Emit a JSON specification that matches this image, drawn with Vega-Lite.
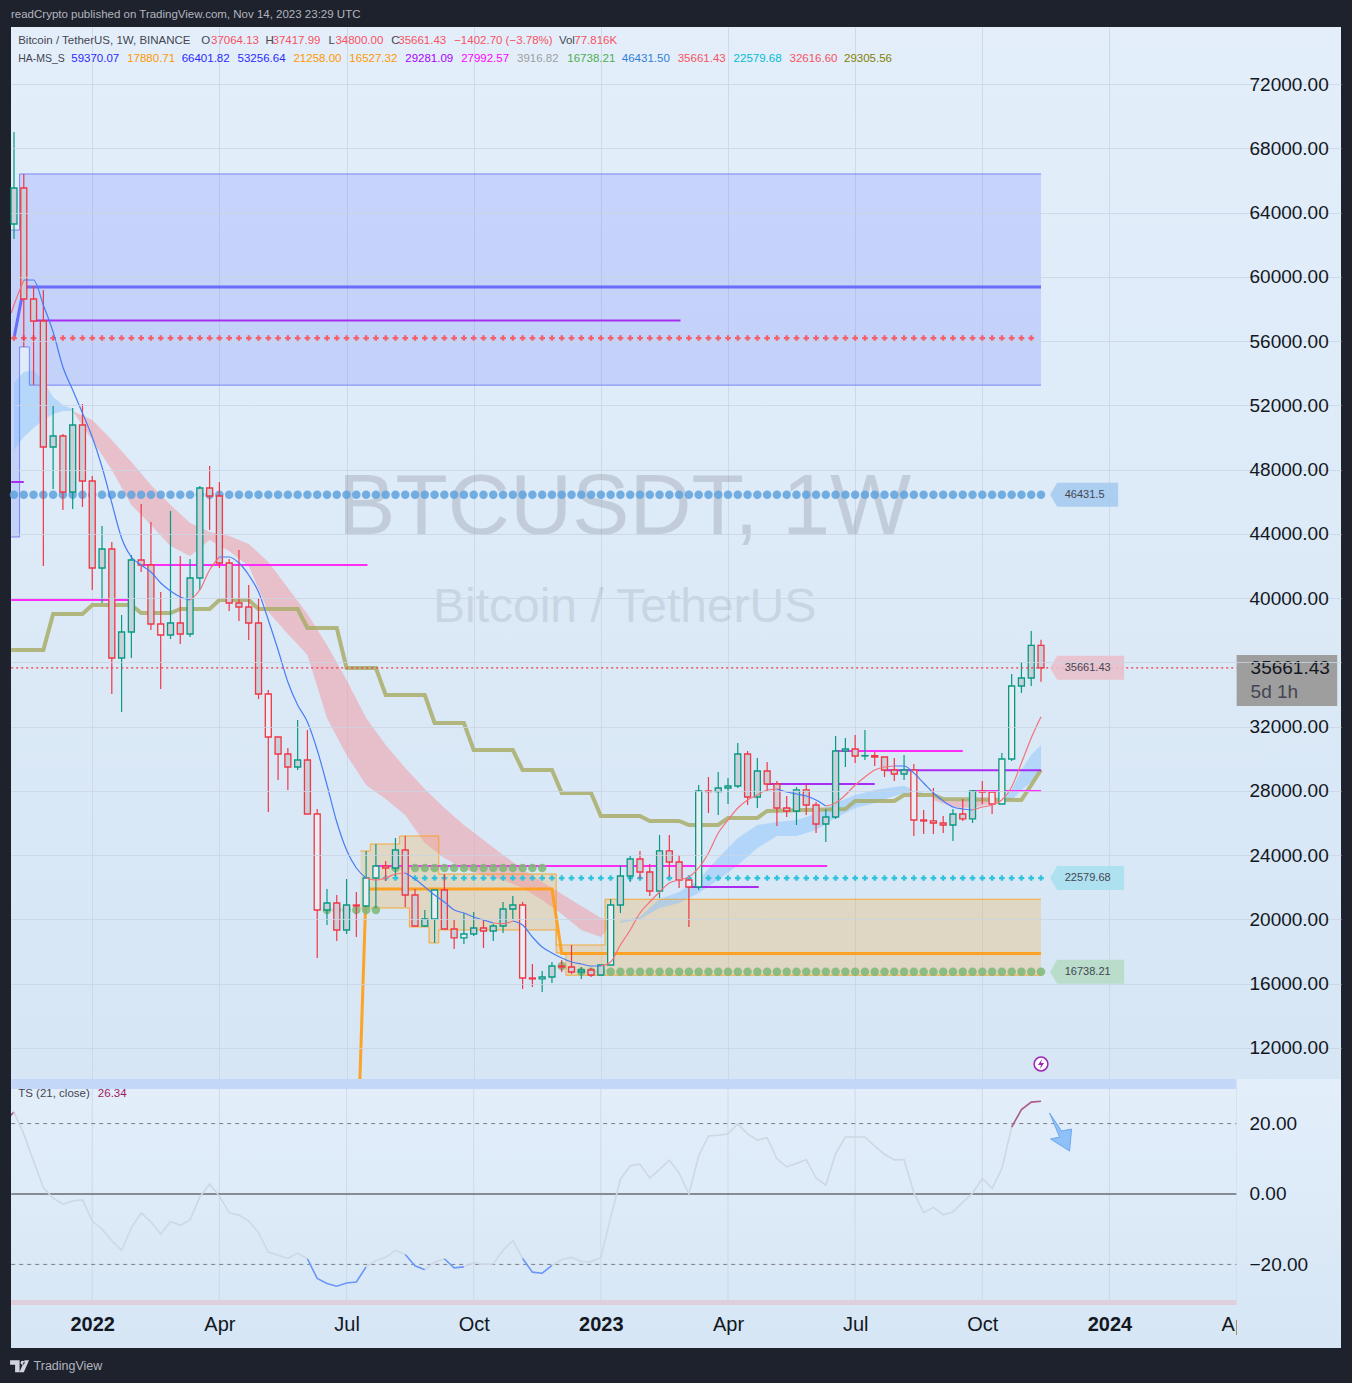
{
  "$schema": "https://vega.github.io/schema/vega-lite/v6.json",
  "background": "#1e222d",
  "padding": {"left": 8, "right": 11, "top": 8, "bottom": 11},
  "title": {"text": "readCrypto published on TradingView.com, Nov 14, 2023 23:29 UTC", "anchor": "start", "color": "#b2b5be", "font": "Liberation Sans", "fontSize": 11.5, "fontWeight": "normal", "offset": 7, "dx": 3},
  "config": {"legend": {"disable": true}, "text": {"font": "Liberation Sans"}},
  "spacing": -1,
  "datasets": {
    "candles": [
      {"bar":0,"week":"2021-11-08","open":63286,"high":69012,"low":62353,"close":65527,"trend":"up","shade":"dark"},
      {"bar":1,"week":"2021-11-15","open":65527,"high":66398,"low":55631,"close":58618,"trend":"down","shade":"dark"},
      {"bar":2,"week":"2021-11-22","open":58618,"high":59427,"low":53266,"close":57249,"trend":"down","shade":"dark"},
      {"bar":3,"week":"2021-11-29","open":57249,"high":59178,"low":42000,"close":49407,"trend":"down","shade":"dark"},
      {"bar":4,"week":"2021-12-06","open":49407,"high":51959,"low":46792,"close":50091,"trend":"up","shade":"dark"},
      {"bar":5,"week":"2021-12-13","open":50091,"high":50216,"low":45486,"close":46606,"trend":"down","shade":"dark"},
      {"bar":6,"week":"2021-12-20","open":46606,"high":51834,"low":45548,"close":50776,"trend":"up","shade":"dark"},
      {"bar":7,"week":"2021-12-27","open":50776,"high":52083,"low":45673,"close":47290,"trend":"down","shade":"dark"},
      {"bar":8,"week":"2022-01-03","open":47290,"high":47602,"low":40506,"close":41876,"trend":"down","shade":"dark"},
      {"bar":9,"week":"2022-01-10","open":41876,"high":44490,"low":39697,"close":43058,"trend":"up","shade":"dark"},
      {"bar":10,"week":"2022-01-17","open":43058,"high":43494,"low":34034,"close":36274,"trend":"down","shade":"dark"},
      {"bar":11,"week":"2022-01-24","open":36274,"high":38951,"low":32914,"close":37892,"trend":"up","shade":"dark"},
      {"bar":12,"week":"2022-01-31","open":37892,"high":42685,"low":36274,"close":42374,"trend":"up","shade":"dark"},
      {"bar":13,"week":"2022-02-07","open":42374,"high":45859,"low":41626,"close":42062,"trend":"down","shade":"dark"},
      {"bar":14,"week":"2022-02-14","open":42062,"high":44739,"low":38017,"close":38390,"trend":"down","shade":"dark"},
      {"bar":15,"week":"2022-02-21","open":38390,"high":40382,"low":34345,"close":37706,"trend":"down","shade":"pale"},
      {"bar":16,"week":"2022-02-28","open":37706,"high":45423,"low":37457,"close":38453,"trend":"up","shade":"dark"},
      {"bar":17,"week":"2022-03-07","open":38453,"high":42623,"low":37146,"close":37768,"trend":"down","shade":"dark"},
      {"bar":18,"week":"2022-03-14","open":37768,"high":42436,"low":37581,"close":41253,"trend":"up","shade":"dark"},
      {"bar":19,"week":"2022-03-21","open":41253,"high":46979,"low":40506,"close":46855,"trend":"up","shade":"dark"},
      {"bar":20,"week":"2022-03-28","open":46855,"high":48224,"low":44241,"close":46357,"trend":"down","shade":"dark"},
      {"bar":21,"week":"2022-04-04","open":46357,"high":47228,"low":41876,"close":42187,"trend":"down","shade":"dark"},
      {"bar":22,"week":"2022-04-11","open":42187,"high":42436,"low":39199,"close":39698,"trend":"down","shade":"dark"},
      {"bar":23,"week":"2022-04-18","open":39698,"high":42996,"low":38577,"close":39448,"trend":"down","shade":"dark"},
      {"bar":24,"week":"2022-04-25","open":39448,"high":40818,"low":37395,"close":38453,"trend":"down","shade":"dark"},
      {"bar":25,"week":"2022-05-02","open":38453,"high":40009,"low":33722,"close":34034,"trend":"down","shade":"dark"},
      {"bar":26,"week":"2022-05-09","open":34034,"high":34282,"low":26689,"close":31357,"trend":"down","shade":"pale"},
      {"bar":27,"week":"2022-05-16","open":31357,"high":31357,"low":28681,"close":30299,"trend":"down","shade":"dark"},
      {"bar":28,"week":"2022-05-23","open":30299,"high":30673,"low":28060,"close":29489,"trend":"down","shade":"dark"},
      {"bar":29,"week":"2022-05-30","open":29489,"high":32415,"low":29303,"close":29926,"trend":"up","shade":"dark"},
      {"bar":30,"week":"2022-06-06","open":29926,"high":31793,"low":26565,"close":26565,"trend":"down","shade":"dark"},
      {"bar":31,"week":"2022-06-13","open":26565,"high":26877,"low":17602,"close":20590,"trend":"down","shade":"pale"},
      {"bar":32,"week":"2022-06-20","open":20590,"high":21897,"low":19656,"close":21026,"trend":"up","shade":"dark"},
      {"bar":33,"week":"2022-06-27","open":21026,"high":21523,"low":18661,"close":19345,"trend":"down","shade":"dark"},
      {"bar":34,"week":"2022-07-04","open":19345,"high":22519,"low":19096,"close":20901,"trend":"up","shade":"dark"},
      {"bar":35,"week":"2022-07-11","open":20901,"high":21710,"low":18909,"close":20839,"trend":"down","shade":"dark"},
      {"bar":36,"week":"2022-07-18","open":20839,"high":24263,"low":20777,"close":22581,"trend":"up","shade":"pale"},
      {"bar":37,"week":"2022-07-25","open":22581,"high":24697,"low":20714,"close":23328,"trend":"up","shade":"pale"},
      {"bar":38,"week":"2022-08-01","open":23328,"high":23640,"low":22395,"close":23204,"trend":"down","shade":"dark"},
      {"bar":39,"week":"2022-08-08","open":23204,"high":25071,"low":22706,"close":24324,"trend":"up","shade":"dark"},
      {"bar":40,"week":"2022-08-15","open":24324,"high":25196,"low":20777,"close":21523,"trend":"down","shade":"dark"},
      {"bar":41,"week":"2022-08-22","open":21523,"high":21897,"low":19594,"close":19594,"trend":"down","shade":"dark"},
      {"bar":42,"week":"2022-08-29","open":19594,"high":20590,"low":19532,"close":20028,"trend":"up","shade":"dark"},
      {"bar":43,"week":"2022-09-05","open":20028,"high":21834,"low":18536,"close":21834,"trend":"up","shade":"pale"},
      {"bar":44,"week":"2022-09-12","open":21834,"high":22830,"low":19407,"close":19407,"trend":"down","shade":"dark"},
      {"bar":45,"week":"2022-09-19","open":19407,"high":19967,"low":18162,"close":18849,"trend":"down","shade":"dark"},
      {"bar":46,"week":"2022-09-26","open":18849,"high":20403,"low":18473,"close":19096,"trend":"up","shade":"pale"},
      {"bar":47,"week":"2022-10-03","open":19096,"high":20465,"low":18971,"close":19469,"trend":"up","shade":"dark"},
      {"bar":48,"week":"2022-10-10","open":19469,"high":19967,"low":18224,"close":19283,"trend":"down","shade":"dark"},
      {"bar":49,"week":"2022-10-17","open":19283,"high":19718,"low":18661,"close":19594,"trend":"up","shade":"dark"},
      {"bar":50,"week":"2022-10-24","open":19594,"high":21088,"low":19157,"close":20652,"trend":"up","shade":"dark"},
      {"bar":51,"week":"2022-10-31","open":20652,"high":21461,"low":20028,"close":20901,"trend":"up","shade":"dark"},
      {"bar":52,"week":"2022-11-07","open":20901,"high":21088,"low":15673,"close":16357,"trend":"down","shade":"pale"},
      {"bar":53,"week":"2022-11-14","open":16357,"high":17229,"low":15797,"close":16300,"trend":"down","shade":"dark"},
      {"bar":54,"week":"2022-11-21","open":16300,"high":16793,"low":15486,"close":16420,"trend":"up","shade":"pale"},
      {"bar":55,"week":"2022-11-28","open":16420,"high":17355,"low":16046,"close":17104,"trend":"up","shade":"dark"},
      {"bar":56,"week":"2022-12-05","open":17104,"high":17478,"low":16731,"close":17042,"trend":"down","shade":"dark"},
      {"bar":57,"week":"2022-12-12","open":17042,"high":18412,"low":16606,"close":16731,"trend":"down","shade":"dark"},
      {"bar":58,"week":"2022-12-19","open":16731,"high":17042,"low":16295,"close":16855,"trend":"up","shade":"dark"},
      {"bar":59,"week":"2022-12-26","open":16855,"high":16980,"low":16420,"close":16544,"trend":"down","shade":"dark"},
      {"bar":60,"week":"2023-01-02","open":16544,"high":17166,"low":16544,"close":17166,"trend":"up","shade":"dark"},
      {"bar":61,"week":"2023-01-09","open":17166,"high":21275,"low":17166,"close":20901,"trend":"up","shade":"pale"},
      {"bar":62,"week":"2023-01-16","open":20901,"high":23390,"low":20403,"close":22706,"trend":"up","shade":"dark"},
      {"bar":63,"week":"2023-01-23","open":22706,"high":23950,"low":22332,"close":23764,"trend":"up","shade":"dark"},
      {"bar":64,"week":"2023-01-30","open":23764,"high":24263,"low":22519,"close":22955,"trend":"down","shade":"dark"},
      {"bar":65,"week":"2023-02-06","open":22955,"high":23453,"low":21461,"close":21772,"trend":"down","shade":"dark"},
      {"bar":66,"week":"2023-02-13","open":21772,"high":25258,"low":21337,"close":24263,"trend":"up","shade":"dark"},
      {"bar":67,"week":"2023-02-20","open":24263,"high":25258,"low":22644,"close":23577,"trend":"down","shade":"dark"},
      {"bar":68,"week":"2023-02-27","open":23577,"high":24013,"low":21960,"close":22457,"trend":"down","shade":"dark"},
      {"bar":69,"week":"2023-03-06","open":22457,"high":22457,"low":19532,"close":22021,"trend":"down","shade":"pale"},
      {"bar":70,"week":"2023-03-13","open":22021,"high":28370,"low":21834,"close":27996,"trend":"up","shade":"pale"},
      {"bar":71,"week":"2023-03-20","open":27996,"high":28868,"low":26627,"close":27960,"trend":"down","shade":"dark"},
      {"bar":72,"week":"2023-03-27","open":27960,"high":29179,"low":26502,"close":28183,"trend":"up","shade":"dark"},
      {"bar":73,"week":"2023-04-03","open":28183,"high":28806,"low":27187,"close":28307,"trend":"up","shade":"dark"},
      {"bar":74,"week":"2023-04-10","open":28307,"high":30984,"low":28183,"close":30299,"trend":"up","shade":"dark"},
      {"bar":75,"week":"2023-04-17","open":30299,"high":30486,"low":27125,"close":27623,"trend":"down","shade":"dark"},
      {"bar":76,"week":"2023-04-24","open":27623,"high":30050,"low":26938,"close":29241,"trend":"up","shade":"dark"},
      {"bar":77,"week":"2023-05-01","open":29241,"high":29801,"low":27996,"close":28432,"trend":"down","shade":"dark"},
      {"bar":78,"week":"2023-05-08","open":28432,"high":28617,"low":25818,"close":26938,"trend":"down","shade":"dark"},
      {"bar":79,"week":"2023-05-15","open":26938,"high":27685,"low":26378,"close":26751,"trend":"down","shade":"dark"},
      {"bar":80,"week":"2023-05-22","open":26751,"high":28245,"low":25880,"close":28060,"trend":"up","shade":"dark"},
      {"bar":81,"week":"2023-05-29","open":28060,"high":28432,"low":26502,"close":27125,"trend":"down","shade":"dark"},
      {"bar":82,"week":"2023-06-05","open":27125,"high":27312,"low":25382,"close":25942,"trend":"down","shade":"dark"},
      {"bar":83,"week":"2023-06-12","open":25942,"high":26876,"low":24822,"close":26378,"trend":"up","shade":"dark"},
      {"bar":84,"week":"2023-06-19","open":26378,"high":31419,"low":26254,"close":30486,"trend":"up","shade":"dark"},
      {"bar":85,"week":"2023-06-26","open":30486,"high":31295,"low":29489,"close":30610,"trend":"up","shade":"dark"},
      {"bar":86,"week":"2023-07-03","open":30610,"high":31482,"low":29739,"close":30175,"trend":"down","shade":"dark"},
      {"bar":87,"week":"2023-07-10","open":30175,"high":31793,"low":29926,"close":30200,"trend":"up","shade":"dark"},
      {"bar":88,"week":"2023-07-17","open":30200,"high":30424,"low":29552,"close":30112,"trend":"down","shade":"dark"},
      {"bar":89,"week":"2023-07-24","open":30112,"high":30112,"low":28868,"close":29303,"trend":"down","shade":"dark"},
      {"bar":90,"week":"2023-07-31","open":29303,"high":30050,"low":28617,"close":29054,"trend":"down","shade":"dark"},
      {"bar":91,"week":"2023-08-07","open":29054,"high":30237,"low":28681,"close":29303,"trend":"up","shade":"dark"},
      {"bar":92,"week":"2023-08-14","open":29303,"high":29677,"low":25195,"close":26191,"trend":"down","shade":"pale"},
      {"bar":93,"week":"2023-08-21","open":26191,"high":26814,"low":25320,"close":26130,"trend":"down","shade":"dark"},
      {"bar":94,"week":"2023-08-28","open":26130,"high":28183,"low":25320,"close":26004,"trend":"down","shade":"dark"},
      {"bar":95,"week":"2023-09-04","open":26004,"high":26441,"low":25382,"close":25880,"trend":"down","shade":"dark"},
      {"bar":96,"week":"2023-09-11","open":25880,"high":26876,"low":24884,"close":26564,"trend":"up","shade":"dark"},
      {"bar":97,"week":"2023-09-18","open":26564,"high":27498,"low":26130,"close":26255,"trend":"down","shade":"dark"},
      {"bar":98,"week":"2023-09-25","open":26255,"high":28060,"low":26005,"close":27996,"trend":"up","shade":"dark"},
      {"bar":99,"week":"2023-10-02","open":27996,"high":28617,"low":27187,"close":27930,"trend":"down","shade":"dark"},
      {"bar":100,"week":"2023-10-09","open":27930,"high":27996,"low":26565,"close":27187,"trend":"down","shade":"pale"},
      {"bar":101,"week":"2023-10-16","open":27187,"high":30361,"low":27187,"close":29988,"trend":"up","shade":"pale"},
      {"bar":102,"week":"2023-10-23","open":29988,"high":35278,"low":29863,"close":34531,"trend":"up","shade":"pale"},
      {"bar":103,"week":"2023-10-30","open":34531,"high":36025,"low":34097,"close":35030,"trend":"up","shade":"dark"},
      {"bar":104,"week":"2023-11-06","open":35030,"high":37955,"low":34531,"close":37064,"trend":"up","shade":"dark"},
      {"bar":105,"week":"2023-11-13","open":37064,"high":37417,"low":34800,"close":35661,"trend":"down","shade":"dark"}
    ],
    "zones": [
      {"week":"2021-11-06","upper":62913,"lower":43805,"zone":"supply"},
      {"week":"2021-11-12","upper":66401,"lower":55631,"zone":"supply"},
      {"week":"2021-11-19","upper":66401,"lower":53256,"zone":"supply"},
      {"week":"2023-11-13","upper":66401,"lower":53256,"zone":"supply"},
      {"week":"2022-07-14","upper":24263,"lower":20714,"zone":"demand"},
      {"week":"2022-07-21","upper":24697,"lower":20714,"zone":"demand"},
      {"week":"2022-08-11","upper":25196,"lower":20714,"zone":"demand"},
      {"week":"2022-08-18","upper":25196,"lower":19532,"zone":"demand"},
      {"week":"2022-09-01","upper":25196,"lower":18536,"zone":"demand"},
      {"week":"2022-09-08","upper":22830,"lower":19345,"zone":"demand"},
      {"week":"2022-12-01","upper":18412,"lower":17913,"zone":"demand"},
      {"week":"2022-12-08","upper":18412,"lower":16527,"zone":"demand"},
      {"week":"2023-01-05","upper":21258,"lower":16527,"zone":"demand"},
      {"week":"2023-11-13","upper":21258,"lower":16527,"zone":"demand"}
    ],
    "ribbons": [
      {"week":"2021-11-08","upper":53390,"lower":49220,"segment":"blue_a"},
      {"week":"2021-11-15","upper":54075,"lower":50029,"segment":"blue_a"},
      {"week":"2021-11-22","upper":54199,"lower":50589,"segment":"blue_a"},
      {"week":"2021-11-29","upper":53514,"lower":51087,"segment":"blue_a"},
      {"week":"2021-12-06","upper":52519,"lower":51461,"segment":"blue_a"},
      {"week":"2021-12-13","upper":52021,"lower":51647,"segment":"blue_a"},
      {"week":"2021-12-20","upper":51772,"lower":51647,"segment":"blue_a"},
      {"week":"2021-12-20","upper":51647,"lower":51640,"segment":"pink_a"},
      {"week":"2022-01-03","upper":51087,"lower":49842,"segment":"pink_a"},
      {"week":"2022-01-17","upper":49842,"lower":47975,"segment":"pink_a"},
      {"week":"2022-01-31","upper":48473,"lower":45797,"segment":"pink_a"},
      {"week":"2022-02-14","upper":47042,"lower":44552,"segment":"pink_a"},
      {"week":"2022-02-28","upper":45797,"lower":43245,"segment":"pink_a"},
      {"week":"2022-03-14","upper":44676,"lower":42623,"segment":"pink_a"},
      {"week":"2022-03-28","upper":44116,"lower":43618,"segment":"pink_a"},
      {"week":"2022-04-11","upper":43867,"lower":42934,"segment":"pink_a"},
      {"week":"2022-04-25","upper":43369,"lower":42000,"segment":"pink_a"},
      {"week":"2022-05-09","upper":42249,"lower":39137,"segment":"pink_a"},
      {"week":"2022-05-23","upper":40631,"lower":37768,"segment":"pink_a"},
      {"week":"2022-06-06","upper":39013,"lower":36461,"segment":"pink_a"},
      {"week":"2022-06-20","upper":37083,"lower":32540,"segment":"pink_a"},
      {"week":"2022-07-04","upper":34905,"lower":30237,"segment":"pink_a"},
      {"week":"2022-07-18","upper":32540,"lower":28370,"segment":"pink_a"},
      {"week":"2022-08-01","upper":30859,"lower":27498,"segment":"pink_a"},
      {"week":"2022-08-15","upper":29428,"lower":26502,"segment":"pink_a"},
      {"week":"2022-08-29","upper":28121,"lower":24758,"segment":"pink_a"},
      {"week":"2022-09-12","upper":26938,"lower":23826,"segment":"pink_a"},
      {"week":"2022-09-26","upper":25880,"lower":23141,"segment":"pink_a"},
      {"week":"2022-10-10","upper":24946,"lower":22768,"segment":"pink_a"},
      {"week":"2022-10-24","upper":24013,"lower":22457,"segment":"pink_a"},
      {"week":"2022-11-07","upper":23141,"lower":21959,"segment":"pink_a"},
      {"week":"2022-11-21","upper":22332,"lower":21212,"segment":"pink_a"},
      {"week":"2022-12-05","upper":21587,"lower":20339,"segment":"pink_a"},
      {"week":"2022-12-19","upper":20839,"lower":19345,"segment":"pink_a"},
      {"week":"2023-01-02","upper":20092,"lower":18909,"segment":"pink_a"},
      {"week":"2023-01-09","upper":19967,"lower":19656,"segment":"pink_a"},
      {"week":"2023-01-16","upper":19906,"lower":19779,"segment":"blue_b"},
      {"week":"2023-01-30","upper":20154,"lower":20029,"segment":"blue_b"},
      {"week":"2023-02-13","upper":21275,"lower":20714,"segment":"blue_b"},
      {"week":"2023-02-27","upper":21710,"lower":21026,"segment":"blue_b"},
      {"week":"2023-03-13","upper":22457,"lower":21648,"segment":"blue_b"},
      {"week":"2023-03-27","upper":23826,"lower":22457,"segment":"blue_b"},
      {"week":"2023-04-10","upper":25071,"lower":23390,"segment":"blue_b"},
      {"week":"2023-04-24","upper":25880,"lower":24448,"segment":"blue_b"},
      {"week":"2023-05-08","upper":26067,"lower":25195,"segment":"blue_b"},
      {"week":"2023-05-22","upper":26191,"lower":25195,"segment":"blue_b"},
      {"week":"2023-06-05","upper":26565,"lower":25569,"segment":"blue_b"},
      {"week":"2023-06-19","upper":27249,"lower":26317,"segment":"blue_b"},
      {"week":"2023-07-03","upper":27747,"lower":26938,"segment":"blue_b"},
      {"week":"2023-07-17","upper":28060,"lower":27249,"segment":"blue_b"},
      {"week":"2023-07-31","upper":28245,"lower":27685,"segment":"blue_b"},
      {"week":"2023-08-07","upper":28307,"lower":27872,"segment":"blue_b"},
      {"week":"2023-08-14","upper":28060,"lower":27872,"segment":"blue_b"},
      {"week":"2023-08-21","upper":27872,"lower":27810,"segment":"blue_b"},
      {"week":"2023-08-28","upper":27560,"lower":27436,"segment":"pink_b"},
      {"week":"2023-09-11","upper":27374,"lower":27001,"segment":"pink_b"},
      {"week":"2023-09-25","upper":27436,"lower":26938,"segment":"pink_b"},
      {"week":"2023-10-09","upper":27436,"lower":27249,"segment":"pink_b"},
      {"week":"2023-10-16","upper":27374,"lower":27312,"segment":"pink_b"},
      {"week":"2023-10-16","upper":27436,"lower":27374,"segment":"blue_c"},
      {"week":"2023-10-23","upper":28060,"lower":27436,"segment":"blue_c"},
      {"week":"2023-10-30","upper":29303,"lower":28060,"segment":"blue_c"},
      {"week":"2023-11-06","upper":30237,"lower":28556,"segment":"blue_c"},
      {"week":"2023-11-13","upper":30859,"lower":29428,"segment":"blue_c"}
    ],
    "average": [
      {"week":"2021-11-06","price":57747,"segment":"a","trend":"rising"},
      {"week":"2021-11-08","price":58245,"segment":"a","trend":"rising"},
      {"week":"2021-11-15","price":59801,"segment":"a","trend":"rising"},
      {"week":"2021-11-15","price":59801,"segment":"b","trend":"falling"},
      {"week":"2021-11-22","price":59801,"segment":"b","trend":"falling"},
      {"week":"2021-11-29","price":58245,"segment":"b","trend":"falling"},
      {"week":"2021-12-06","price":56565,"segment":"b","trend":"falling"},
      {"week":"2021-12-13","price":54386,"segment":"b","trend":"falling"},
      {"week":"2021-12-20","price":52954,"segment":"b","trend":"falling"},
      {"week":"2021-12-27","price":51523,"segment":"b","trend":"falling"},
      {"week":"2022-01-03","price":50029,"segment":"b","trend":"falling"},
      {"week":"2022-01-10","price":48162,"segment":"b","trend":"falling"},
      {"week":"2022-01-17","price":45921,"segment":"b","trend":"falling"},
      {"week":"2022-01-24","price":43743,"segment":"b","trend":"falling"},
      {"week":"2022-01-31","price":42560,"segment":"b","trend":"falling"},
      {"week":"2022-02-07","price":42062,"segment":"b","trend":"falling"},
      {"week":"2022-02-14","price":41627,"segment":"b","trend":"falling"},
      {"week":"2022-02-21","price":40942,"segment":"b","trend":"falling"},
      {"week":"2022-02-28","price":40444,"segment":"b","trend":"falling"},
      {"week":"2022-03-07","price":40071,"segment":"b","trend":"falling"},
      {"week":"2022-03-14","price":39884,"segment":"b","trend":"falling"},
      {"week":"2022-03-14","price":39884,"segment":"c","trend":"rising"},
      {"week":"2022-03-21","price":40506,"segment":"c","trend":"rising"},
      {"week":"2022-03-28","price":41752,"segment":"c","trend":"rising"},
      {"week":"2022-04-04","price":42560,"segment":"c","trend":"rising"},
      {"week":"2022-04-04","price":42560,"segment":"d","trend":"falling"},
      {"week":"2022-04-11","price":42560,"segment":"d","trend":"falling"},
      {"week":"2022-04-18","price":42187,"segment":"d","trend":"falling"},
      {"week":"2022-04-25","price":41440,"segment":"d","trend":"falling"},
      {"week":"2022-05-02","price":40382,"segment":"d","trend":"falling"},
      {"week":"2022-05-09","price":38639,"segment":"d","trend":"falling"},
      {"week":"2022-05-16","price":36772,"segment":"d","trend":"falling"},
      {"week":"2022-05-23","price":34780,"segment":"d","trend":"falling"},
      {"week":"2022-05-30","price":33349,"segment":"d","trend":"falling"},
      {"week":"2022-06-06","price":32291,"segment":"d","trend":"falling"},
      {"week":"2022-06-13","price":30548,"segment":"d","trend":"falling"},
      {"week":"2022-06-20","price":28370,"segment":"d","trend":"falling"},
      {"week":"2022-06-27","price":26067,"segment":"d","trend":"falling"},
      {"week":"2022-07-04","price":24324,"segment":"d","trend":"falling"},
      {"week":"2022-07-11","price":23204,"segment":"d","trend":"falling"},
      {"week":"2022-07-18","price":22581,"segment":"d","trend":"falling"},
      {"week":"2022-07-18","price":22581,"segment":"e","trend":"rising"},
      {"week":"2022-07-25","price":22457,"segment":"e","trend":"rising"},
      {"week":"2022-08-01","price":22581,"segment":"e","trend":"rising"},
      {"week":"2022-08-08","price":22830,"segment":"e","trend":"rising"},
      {"week":"2022-08-15","price":22893,"segment":"e","trend":"rising"},
      {"week":"2022-08-15","price":22893,"segment":"f","trend":"falling"},
      {"week":"2022-08-22","price":22519,"segment":"f","trend":"falling"},
      {"week":"2022-08-29","price":22021,"segment":"f","trend":"falling"},
      {"week":"2022-09-05","price":21523,"segment":"f","trend":"falling"},
      {"week":"2022-09-12","price":21088,"segment":"f","trend":"falling"},
      {"week":"2022-09-19","price":20590,"segment":"f","trend":"falling"},
      {"week":"2022-09-26","price":20403,"segment":"f","trend":"falling"},
      {"week":"2022-10-03","price":20154,"segment":"f","trend":"falling"},
      {"week":"2022-10-10","price":19967,"segment":"f","trend":"falling"},
      {"week":"2022-10-17","price":19779,"segment":"f","trend":"falling"},
      {"week":"2022-10-17","price":19779,"segment":"g","trend":"rising"},
      {"week":"2022-10-24","price":19735,"segment":"g","trend":"rising"},
      {"week":"2022-10-31","price":19906,"segment":"g","trend":"rising"},
      {"week":"2022-10-31","price":19906,"segment":"h","trend":"falling"},
      {"week":"2022-11-07","price":19656,"segment":"h","trend":"falling"},
      {"week":"2022-11-14","price":18909,"segment":"h","trend":"falling"},
      {"week":"2022-11-21","price":18287,"segment":"h","trend":"falling"},
      {"week":"2022-11-28","price":17913,"segment":"h","trend":"falling"},
      {"week":"2022-12-05","price":17602,"segment":"h","trend":"falling"},
      {"week":"2022-12-12","price":17355,"segment":"h","trend":"falling"},
      {"week":"2022-12-19","price":17229,"segment":"h","trend":"falling"},
      {"week":"2022-12-26","price":17104,"segment":"h","trend":"falling"},
      {"week":"2023-01-02","price":17104,"segment":"h","trend":"falling"},
      {"week":"2023-01-02","price":17104,"segment":"i","trend":"rising"},
      {"week":"2023-01-09","price":17355,"segment":"i","trend":"rising"},
      {"week":"2023-01-16","price":18412,"segment":"i","trend":"rising"},
      {"week":"2023-01-23","price":19345,"segment":"i","trend":"rising"},
      {"week":"2023-01-30","price":20403,"segment":"i","trend":"rising"},
      {"week":"2023-02-06","price":21088,"segment":"i","trend":"rising"},
      {"week":"2023-02-13","price":21710,"segment":"i","trend":"rising"},
      {"week":"2023-02-20","price":22270,"segment":"i","trend":"rising"},
      {"week":"2023-02-27","price":22457,"segment":"i","trend":"rising"},
      {"week":"2023-03-06","price":22644,"segment":"i","trend":"rising"},
      {"week":"2023-03-13","price":23204,"segment":"i","trend":"rising"},
      {"week":"2023-03-20","price":24137,"segment":"i","trend":"rising"},
      {"week":"2023-03-27","price":25382,"segment":"i","trend":"rising"},
      {"week":"2023-04-03","price":26191,"segment":"i","trend":"rising"},
      {"week":"2023-04-10","price":26938,"segment":"i","trend":"rising"},
      {"week":"2023-04-17","price":27436,"segment":"i","trend":"rising"},
      {"week":"2023-04-24","price":27747,"segment":"i","trend":"rising"},
      {"week":"2023-05-01","price":28060,"segment":"i","trend":"rising"},
      {"week":"2023-05-08","price":28121,"segment":"i","trend":"rising"},
      {"week":"2023-05-08","price":28121,"segment":"j","trend":"falling"},
      {"week":"2023-05-15","price":27934,"segment":"j","trend":"falling"},
      {"week":"2023-05-22","price":27810,"segment":"j","trend":"falling"},
      {"week":"2023-05-29","price":27685,"segment":"j","trend":"falling"},
      {"week":"2023-06-05","price":27436,"segment":"j","trend":"falling"},
      {"week":"2023-06-12","price":27062,"segment":"j","trend":"falling"},
      {"week":"2023-06-12","price":27062,"segment":"k","trend":"rising"},
      {"week":"2023-06-19","price":27249,"segment":"k","trend":"rising"},
      {"week":"2023-06-26","price":27747,"segment":"k","trend":"rising"},
      {"week":"2023-07-03","price":28370,"segment":"k","trend":"rising"},
      {"week":"2023-07-10","price":28868,"segment":"k","trend":"rising"},
      {"week":"2023-07-17","price":29303,"segment":"k","trend":"rising"},
      {"week":"2023-07-24","price":29489,"segment":"k","trend":"rising"},
      {"week":"2023-07-31","price":29552,"segment":"k","trend":"rising"},
      {"week":"2023-07-31","price":29552,"segment":"l","trend":"falling"},
      {"week":"2023-08-07","price":29552,"segment":"l","trend":"falling"},
      {"week":"2023-08-14","price":29116,"segment":"l","trend":"falling"},
      {"week":"2023-08-21","price":28494,"segment":"l","trend":"falling"},
      {"week":"2023-08-28","price":27872,"segment":"l","trend":"falling"},
      {"week":"2023-09-04","price":27374,"segment":"l","trend":"falling"},
      {"week":"2023-09-11","price":27001,"segment":"l","trend":"falling"},
      {"week":"2023-09-18","price":26876,"segment":"l","trend":"falling"},
      {"week":"2023-09-25","price":26814,"segment":"l","trend":"falling"},
      {"week":"2023-09-25","price":26814,"segment":"m","trend":"rising"},
      {"week":"2023-10-02","price":27001,"segment":"m","trend":"rising"},
      {"week":"2023-10-09","price":27125,"segment":"m","trend":"rising"},
      {"week":"2023-10-16","price":27436,"segment":"m","trend":"rising"},
      {"week":"2023-10-23","price":28245,"segment":"m","trend":"rising"},
      {"week":"2023-10-30","price":29739,"segment":"m","trend":"rising"},
      {"week":"2023-11-06","price":31295,"segment":"m","trend":"rising"},
      {"week":"2023-11-13","price":32616,"segment":"m","trend":"rising"}
    ],
    "baseline": [
      {"week":"2021-11-06","price":36772},{"week":"2021-11-29","price":36772},{"week":"2021-12-06","price":39013},{"week":"2021-12-27","price":39013},
      {"week":"2022-01-03","price":39573},{"week":"2022-01-31","price":39573},{"week":"2022-02-07","price":39075},{"week":"2022-02-28","price":39075},
      {"week":"2022-03-07","price":39324},{"week":"2022-03-28","price":39324},{"week":"2022-04-04","price":39884},{"week":"2022-04-25","price":39884},
      {"week":"2022-05-02","price":39324},{"week":"2022-05-30","price":39324},{"week":"2022-06-06","price":38141},{"week":"2022-06-27","price":38141},
      {"week":"2022-07-04","price":35652},{"week":"2022-07-25","price":35652},{"week":"2022-08-01","price":33971},{"week":"2022-08-29","price":33971},
      {"week":"2022-09-05","price":32228},{"week":"2022-09-26","price":32228},{"week":"2022-10-03","price":30548},{"week":"2022-10-31","price":30548},
      {"week":"2022-11-07","price":29303},{"week":"2022-11-28","price":29303},{"week":"2022-12-05","price":27872},{"week":"2022-12-26","price":27872},
      {"week":"2023-01-02","price":26440},{"week":"2023-01-30","price":26440},{"week":"2023-02-06","price":26129},{"week":"2023-02-27","price":26129},
      {"week":"2023-03-06","price":25880},{"week":"2023-03-27","price":25880},{"week":"2023-04-03","price":26316},{"week":"2023-04-24","price":26316},
      {"week":"2023-05-01","price":26752},{"week":"2023-06-26","price":26876},{"week":"2023-07-03","price":27374},{"week":"2023-07-31","price":27374},
      {"week":"2023-08-07","price":27747},{"week":"2023-08-28","price":27747},{"week":"2023-09-04","price":27498},{"week":"2023-10-30","price":27436},
      {"week":"2023-11-13","price":29305}
    ],
    "ticks": [
      {"week":"2022-01-03"},{"week":"2022-04-04"},{"week":"2022-07-04"},{"week":"2022-10-03"},{"week":"2023-01-02"},
      {"week":"2023-04-03"},{"week":"2023-07-03"},{"week":"2023-10-02"},{"week":"2024-01-01"},{"week":"2024-04-01"}
    ],
    "momentum": [
      {"week":"2021-11-01","value":20.5,"segment":"p0","zone":"high"},{"week":"2021-11-08","value":23.3,"segment":"p0","zone":"high"},
      {"week":"2021-11-08","value":23.3,"segment":"g1","zone":"mid"},{"week":"2021-11-15","value":17,"segment":"g1","zone":"mid"},{"week":"2021-11-22","value":9.4,"segment":"g1","zone":"mid"},
      {"week":"2021-11-29","value":1.8,"segment":"g1","zone":"mid"},{"week":"2021-12-06","value":-1.2,"segment":"g1","zone":"mid"},{"week":"2021-12-13","value":-2.9,"segment":"g1","zone":"mid"},
      {"week":"2021-12-20","value":-2,"segment":"g1","zone":"mid"},{"week":"2021-12-27","value":-1.6,"segment":"g1","zone":"mid"},{"week":"2022-01-03","value":-7.7,"segment":"g1","zone":"mid"},
      {"week":"2022-01-10","value":-10,"segment":"g1","zone":"mid"},{"week":"2022-01-17","value":-13.3,"segment":"g1","zone":"mid"},{"week":"2022-01-24","value":-16,"segment":"g1","zone":"mid"},
      {"week":"2022-01-31","value":-9.6,"segment":"g1","zone":"mid"},{"week":"2022-02-07","value":-5.4,"segment":"g1","zone":"mid"},{"week":"2022-02-14","value":-7.9,"segment":"g1","zone":"mid"},
      {"week":"2022-02-21","value":-11.4,"segment":"g1","zone":"mid"},{"week":"2022-02-28","value":-7.8,"segment":"g1","zone":"mid"},{"week":"2022-03-07","value":-8.9,"segment":"g1","zone":"mid"},
      {"week":"2022-03-14","value":-7.4,"segment":"g1","zone":"mid"},{"week":"2022-03-21","value":-0.8,"segment":"g1","zone":"mid"},{"week":"2022-03-28","value":2.8,"segment":"g1","zone":"mid"},
      {"week":"2022-04-04","value":-0.6,"segment":"g1","zone":"mid"},{"week":"2022-04-11","value":-5.3,"segment":"g1","zone":"mid"},{"week":"2022-04-18","value":-6,"segment":"g1","zone":"mid"},
      {"week":"2022-04-25","value":-7.7,"segment":"g1","zone":"mid"},{"week":"2022-05-02","value":-11,"segment":"g1","zone":"mid"},{"week":"2022-05-09","value":-16.5,"segment":"g1","zone":"mid"},
      {"week":"2022-05-16","value":-17.4,"segment":"g1","zone":"mid"},{"week":"2022-05-23","value":-18.3,"segment":"g1","zone":"mid"},{"week":"2022-05-30","value":-16.8,"segment":"g1","zone":"mid"},
      {"week":"2022-06-06","value":-18.4,"segment":"g1","zone":"mid"},
      {"week":"2022-06-06","value":-18.4,"segment":"b1","zone":"low"},{"week":"2022-06-13","value":-24,"segment":"b1","zone":"low"},{"week":"2022-06-20","value":-25.4,"segment":"b1","zone":"low"},
      {"week":"2022-06-27","value":-26.2,"segment":"b1","zone":"low"},{"week":"2022-07-04","value":-25.3,"segment":"b1","zone":"low"},{"week":"2022-07-11","value":-25,"segment":"b1","zone":"low"},
      {"week":"2022-07-18","value":-20.7,"segment":"b1","zone":"low"},
      {"week":"2022-07-18","value":-20.7,"segment":"g2","zone":"mid"},{"week":"2022-07-25","value":-18.9,"segment":"g2","zone":"mid"},{"week":"2022-08-01","value":-18,"segment":"g2","zone":"mid"},
      {"week":"2022-08-08","value":-16,"segment":"g2","zone":"mid"},{"week":"2022-08-15","value":-17.2,"segment":"g2","zone":"mid"},
      {"week":"2022-08-15","value":-17.2,"segment":"b2","zone":"low"},{"week":"2022-08-22","value":-20.4,"segment":"b2","zone":"low"},{"week":"2022-08-29","value":-21.5,"segment":"b2","zone":"low"},
      {"week":"2022-08-29","value":-21.5,"segment":"g3","zone":"mid"},{"week":"2022-09-05","value":-19.4,"segment":"g3","zone":"mid"},{"week":"2022-09-12","value":-18.4,"segment":"g3","zone":"mid"},
      {"week":"2022-09-12","value":-18.4,"segment":"b3","zone":"low"},{"week":"2022-09-19","value":-21,"segment":"b3","zone":"low"},{"week":"2022-09-26","value":-20.7,"segment":"b3","zone":"low"},
      {"week":"2022-09-26","value":-20.7,"segment":"g4","zone":"mid"},{"week":"2022-10-03","value":-19.5,"segment":"g4","zone":"mid"},{"week":"2022-10-10","value":-20,"segment":"g4","zone":"mid"},
      {"week":"2022-10-17","value":-19.8,"segment":"g4","zone":"mid"},{"week":"2022-10-24","value":-16,"segment":"g4","zone":"mid"},{"week":"2022-10-31","value":-13.2,"segment":"g4","zone":"mid"},
      {"week":"2022-11-07","value":-18.3,"segment":"g4","zone":"mid"},
      {"week":"2022-11-07","value":-18.3,"segment":"b4","zone":"low"},{"week":"2022-11-14","value":-22.2,"segment":"b4","zone":"low"},{"week":"2022-11-21","value":-22.5,"segment":"b4","zone":"low"},
      {"week":"2022-11-28","value":-20.3,"segment":"b4","zone":"low"},
      {"week":"2022-11-28","value":-20.3,"segment":"g5","zone":"mid"},{"week":"2022-12-05","value":-18.6,"segment":"g5","zone":"mid"},{"week":"2022-12-12","value":-18,"segment":"g5","zone":"mid"},
      {"week":"2022-12-19","value":-19.2,"segment":"g5","zone":"mid"},{"week":"2022-12-26","value":-19.2,"segment":"g5","zone":"mid"},{"week":"2023-01-02","value":-18.1,"segment":"g5","zone":"mid"},
      {"week":"2023-01-09","value":-6.7,"segment":"g5","zone":"mid"},{"week":"2023-01-16","value":4.2,"segment":"g5","zone":"mid"},{"week":"2023-01-23","value":8,"segment":"g5","zone":"mid"},
      {"week":"2023-01-30","value":8.5,"segment":"g5","zone":"mid"},{"week":"2023-02-06","value":4.5,"segment":"g5","zone":"mid"},{"week":"2023-02-13","value":7,"segment":"g5","zone":"mid"},
      {"week":"2023-02-20","value":9.6,"segment":"g5","zone":"mid"},{"week":"2023-02-27","value":6,"segment":"g5","zone":"mid"},{"week":"2023-03-06","value":0,"segment":"g5","zone":"mid"},
      {"week":"2023-03-13","value":10.8,"segment":"g5","zone":"mid"},{"week":"2023-03-20","value":16.5,"segment":"g5","zone":"mid"},{"week":"2023-03-27","value":16.7,"segment":"g5","zone":"mid"},
      {"week":"2023-04-03","value":17.1,"segment":"g5","zone":"mid"},{"week":"2023-04-10","value":19.9,"segment":"g5","zone":"mid"},{"week":"2023-04-17","value":17.1,"segment":"g5","zone":"mid"},
      {"week":"2023-04-24","value":15.3,"segment":"g5","zone":"mid"},{"week":"2023-05-01","value":16,"segment":"g5","zone":"mid"},{"week":"2023-05-08","value":10,"segment":"g5","zone":"mid"},
      {"week":"2023-05-15","value":7.7,"segment":"g5","zone":"mid"},{"week":"2023-05-22","value":8.7,"segment":"g5","zone":"mid"},{"week":"2023-05-29","value":9.7,"segment":"g5","zone":"mid"},
      {"week":"2023-06-05","value":4.6,"segment":"g5","zone":"mid"},{"week":"2023-06-12","value":2.5,"segment":"g5","zone":"mid"},{"week":"2023-06-19","value":11.5,"segment":"g5","zone":"mid"},
      {"week":"2023-06-26","value":16.2,"segment":"g5","zone":"mid"},{"week":"2023-07-03","value":16.2,"segment":"g5","zone":"mid"},{"week":"2023-07-10","value":16.2,"segment":"g5","zone":"mid"},
      {"week":"2023-07-17","value":13.6,"segment":"g5","zone":"mid"},{"week":"2023-07-24","value":11.3,"segment":"g5","zone":"mid"},{"week":"2023-07-31","value":9.7,"segment":"g5","zone":"mid"},
      {"week":"2023-08-07","value":9.8,"segment":"g5","zone":"mid"},{"week":"2023-08-14","value":0.4,"segment":"g5","zone":"mid"},{"week":"2023-08-21","value":-5.3,"segment":"g5","zone":"mid"},
      {"week":"2023-08-28","value":-3.8,"segment":"g5","zone":"mid"},{"week":"2023-09-04","value":-5.9,"segment":"g5","zone":"mid"},{"week":"2023-09-11","value":-5.1,"segment":"g5","zone":"mid"},
      {"week":"2023-09-18","value":-2.3,"segment":"g5","zone":"mid"},{"week":"2023-09-25","value":0.2,"segment":"g5","zone":"mid"},{"week":"2023-10-02","value":4.4,"segment":"g5","zone":"mid"},
      {"week":"2023-10-09","value":1.6,"segment":"g5","zone":"mid"},{"week":"2023-10-16","value":7.2,"segment":"g5","zone":"mid"},{"week":"2023-10-23","value":19,"segment":"g5","zone":"mid"},
      {"week":"2023-10-23","value":19,"segment":"p1","zone":"high"},{"week":"2023-10-30","value":24,"segment":"p1","zone":"high"},{"week":"2023-11-06","value":26.1,"segment":"p1","zone":"high"},
      {"week":"2023-11-13","value":26.34,"segment":"p1","zone":"high"}
    ]
  },
  "vconcat": [
    {
      "width": 1330,
      "height": 1052,
      "view": {"stroke": null, "fill": {"gradient": "linear", "x1": 0, "y1": 0, "x2": 0, "y2": 1, "stops": [{"offset": 0, "color": "#e3eefa"}, {"offset": 1, "color": "#d6e6f5"}]}},
      "resolve": {"scale": {"color": "independent", "fill": "independent", "stroke": "independent"}},
      "layer": [
        {
          "data": {"values": [{"week": "2021-11-08", "price": 46431}]},
          "mark": {"type": "point", "opacity": 0},
          "encoding": {
            "x": {"field": "week", "type": "temporal", "scale": {"padding": 0, "domain": [{"year": 2021, "month": 11, "date": 5, "hours": 20, "minutes": 28, "utc": true}, {"year": 2024, "month": 6, "date": 14, "hours": 16, "minutes": 48, "utc": true}]},
              "axis": {"title": null, "labels": false, "ticks": false, "domain": false, "grid": true, "gridColor": "#c9d5e2", "gridOpacity": 0.8,
                "values": [{"year":2022,"month":1,"date":3,"utc":true},{"year":2022,"month":4,"date":4,"utc":true},{"year":2022,"month":7,"date":4,"utc":true},{"year":2022,"month":10,"date":3,"utc":true},{"year":2023,"month":1,"date":2,"utc":true},{"year":2023,"month":4,"date":3,"utc":true},{"year":2023,"month":7,"date":3,"utc":true},{"year":2023,"month":10,"date":2,"utc":true},{"year":2024,"month":1,"date":1,"utc":true},{"year":2024,"month":4,"date":1,"utc":true}]}},
            "y": {"field": "price", "type": "quantitative", "scale": {"domain": [10070, 75548], "nice": false, "zero": false},
              "axis": {"title": null, "orient": "right", "offset": -92, "domain": false, "ticks": false, "tickSize": 0, "labelPadding": 0, "labelAlign": "left", "labelFont": "Liberation Sans", "labelFontSize": 19, "labelColor": "#131722", "labelOverlap": false, "labelFlush": false, "labelBound": false, "format": ".2f", "labelExpr": "datum.value == 36000 ? '' : datum.label", "zindex": 1, "grid": true, "gridColor": "#c9d5e2", "gridOpacity": 0.8,
                "values": [12000,16000,20000,24000,28000,32000,36000,40000,44000,48000,52000,56000,60000,64000,68000,72000]}}
          }
        },
        {
          "data": {"values": [{"when": "2023-01-19", "price": 45610, "text": "BTCUSDT, 1W"}]},
          "mark": {"type": "text", "fontSize": 86, "align": "center", "baseline": "middle", "color": "#787b86", "opacity": 0.26},
          "encoding": {"x": {"field": "when", "type": "temporal"}, "y": {"field": "price", "type": "quantitative"}, "text": {"field": "text"}}
        },
        {
          "data": {"values": [{"when": "2023-01-19", "price": 39386, "text": "Bitcoin / TetherUS"}]},
          "mark": {"type": "text", "fontSize": 48, "align": "center", "baseline": "middle", "color": "#787b86", "opacity": 0.18},
          "encoding": {"x": {"field": "when", "type": "temporal"}, "y": {"field": "price", "type": "quantitative"}, "text": {"field": "text"}}
        },
        {
          "data": {"name": "zones"},
          "mark": {"type": "area", "interpolate": "step-after", "opacity": 0.2},
          "encoding": {"x": {"field": "week", "type": "temporal"}, "y": {"field": "upper", "type": "quantitative"}, "y2": {"field": "lower"},
            "color": {"field": "zone", "scale": {"domain": ["supply", "demand"], "range": ["#5a6cff", "#ff9800"]}}}
        },
        {
          "data": {"name": "ribbons"},
          "mark": {"type": "area", "opacity": 0.5},
          "encoding": {"x": {"field": "week", "type": "temporal"}, "y": {"field": "upper", "type": "quantitative"}, "y2": {"field": "lower"},
            "color": {"field": "segment", "scale": {"domain": ["blue_a", "pink_a", "blue_b", "pink_b", "blue_c"], "range": ["#8cc4fb", "#f2959d", "#8cc4fb", "#f2959d", "#8cc4fb"]}}}
        },
        {
          "data": {"name": "zones"},
          "mark": {"type": "line", "interpolate": "step-after", "strokeWidth": 1, "opacity": 0.75},
          "encoding": {"x": {"field": "week", "type": "temporal"}, "y": {"field": "upper", "type": "quantitative"},
            "color": {"field": "zone", "scale": {"domain": ["supply", "demand"], "range": ["#5f68f5", "#ff9800"]}}}
        },
        {
          "data": {"name": "zones"},
          "mark": {"type": "line", "interpolate": "step-after", "strokeWidth": 1, "opacity": 0.75},
          "encoding": {"x": {"field": "week", "type": "temporal"}, "y": {"field": "lower", "type": "quantitative"},
            "color": {"field": "zone", "scale": {"domain": ["supply", "demand"], "range": ["#5f68f5", "#ff9800"]}}}
        },
        {
          "data": {"name": "baseline"},
          "mark": {"type": "line", "color": "#a8ad68", "strokeWidth": 4, "opacity": 0.85, "clip": true},
          "encoding": {"x": {"field": "week", "type": "temporal"}, "y": {"field": "price", "type": "quantitative"}}
        },
        {
          "data": {"values": [{"week": "2021-11-08", "price": 56190}, {"week": "2021-11-15", "price": 59370}, {"week": "2023-11-13", "price": 59370}]},
          "mark": {"type": "line", "color": "#5f62fb", "strokeWidth": 3, "opacity": 0.9},
          "encoding": {"x": {"field": "week", "type": "temporal"}, "y": {"field": "price", "type": "quantitative"}}
        },
        {
          "data": {"values": [{"week": "2022-07-11", "price": 3300}, {"week": "2022-07-18", "price": 21897}, {"week": "2022-11-28", "price": 21897}, {"week": "2022-12-05", "price": 17880}, {"week": "2023-11-13", "price": 17880}]},
          "mark": {"type": "line", "color": "#ff9f1c", "strokeWidth": 3, "opacity": 0.95, "clip": true},
          "encoding": {"x": {"field": "week", "type": "temporal"}, "y": {"field": "price", "type": "quantitative"}}
        },
        {
          "data": {"values": [
            {"start": "2021-11-06", "end": "2021-11-15", "price": 47228, "kind": "purple"},
            {"start": "2021-11-22", "end": "2023-02-28", "price": 57281, "kind": "purple"},
            {"start": "2021-11-06", "end": "2022-01-31", "price": 39884, "kind": "magenta"},
            {"start": "2022-02-07", "end": "2022-07-19", "price": 42062, "kind": "magenta"},
            {"start": "2022-07-25", "end": "2023-06-13", "price": 23328, "kind": "magenta"},
            {"start": "2023-03-06", "end": "2023-04-25", "price": 22021, "kind": "purple"},
            {"start": "2023-05-01", "end": "2023-07-17", "price": 28432, "kind": "purple"},
            {"start": "2023-06-19", "end": "2023-09-18", "price": 30486, "kind": "magenta"},
            {"start": "2023-07-24", "end": "2023-11-13", "price": 29281, "kind": "purple"},
            {"start": "2023-09-25", "end": "2023-11-13", "price": 27992, "kind": "magenta"}
          ], "format": {"parse": {"start": "date", "end": "date"}}},
          "mark": {"type": "rule", "strokeWidth": 2},
          "encoding": {"x": {"field": "start", "type": "temporal"}, "x2": {"field": "end"}, "y": {"field": "price", "type": "quantitative"},
            "color": {"field": "kind", "scale": {"domain": ["purple", "magenta"], "range": ["#a92cf2", "#ff2cf5"]}}}
        },
        {
          "data": {"name": "candles"},
          "mark": {"type": "point", "shape": "circle", "filled": true, "size": 72, "color": "#5fa2de", "opacity": 0.85},
          "encoding": {"x": {"field": "week", "type": "temporal"}, "y": {"datum": 46431.5}}
        },
        {
          "data": {"name": "candles"},
          "transform": [{"filter": {"field": "bar", "range": [32, 37]}}],
          "mark": {"type": "point", "shape": "circle", "filled": true, "size": 72, "color": "#7db776", "opacity": 0.85},
          "encoding": {"x": {"field": "week", "type": "temporal"}, "y": {"datum": 20590}}
        },
        {
          "data": {"name": "candles"},
          "transform": [{"filter": {"field": "bar", "range": [39, 54]}}],
          "mark": {"type": "point", "shape": "circle", "filled": true, "size": 72, "color": "#7db776", "opacity": 0.85},
          "encoding": {"x": {"field": "week", "type": "temporal"}, "y": {"datum": 23200}}
        },
        {
          "data": {"name": "candles"},
          "transform": [{"filter": {"field": "bar", "range": [56, 56]}}],
          "mark": {"type": "point", "shape": "circle", "filled": true, "size": 72, "color": "#7db776", "opacity": 0.85},
          "encoding": {"x": {"field": "week", "type": "temporal"}, "y": {"datum": 17100}}
        },
        {
          "data": {"name": "candles"},
          "transform": [{"filter": {"field": "bar", "range": [58, 105]}}],
          "mark": {"type": "point", "shape": "circle", "filled": true, "size": 72, "color": "#7db776", "opacity": 0.85},
          "encoding": {"x": {"field": "week", "type": "temporal"}, "y": {"datum": 16738.21}}
        },
        {
          "data": {"name": "candles"},
          "transform": [{"filter": {"field": "bar", "range": [0, 104]}}],
          "mark": {"type": "point", "shape": "cross", "filled": true, "size": 32, "color": "#f4606c", "opacity": 1},
          "encoding": {"x": {"field": "week", "type": "temporal"}, "y": {"datum": 56190}}
        },
        {
          "data": {"name": "candles"},
          "transform": [{"filter": {"field": "bar", "range": [38, 105]}}],
          "mark": {"type": "point", "shape": "cross", "filled": true, "size": 32, "color": "#2fc3dc", "opacity": 1},
          "encoding": {"x": {"field": "week", "type": "temporal"}, "y": {"datum": 22579.68}}
        },
        {
          "data": {"name": "candles"},
          "mark": {"type": "rule", "strokeWidth": 1.2},
          "encoding": {"x": {"field": "week", "type": "temporal"}, "y": {"field": "low", "type": "quantitative"}, "y2": {"field": "high"},
            "color": {"field": "trend", "scale": {"domain": ["up", "down"], "range": ["#089981", "#f23645"]}}}
        },
        {
          "data": {"name": "candles"},
          "mark": {"type": "bar", "width": 6, "strokeWidth": 1.3},
          "encoding": {"x": {"field": "week", "type": "temporal"}, "y": {"field": "open", "type": "quantitative"}, "y2": {"field": "close"},
            "stroke": {"field": "trend", "scale": {"domain": ["up", "down"], "range": ["#089981", "#f23645"]}},
            "fill": {"field": "shade", "scale": {"domain": ["dark", "pale"], "range": ["#c8d0da", "#e9eef5"]}}}
        },
        {
          "data": {"name": "average"},
          "mark": {"type": "line", "strokeWidth": 1.2, "interpolate": "monotone", "clip": true},
          "encoding": {"x": {"field": "week", "type": "temporal"}, "y": {"field": "price", "type": "quantitative"}, "detail": {"field": "segment"},
            "color": {"field": "trend", "scale": {"domain": ["rising", "falling"], "range": ["#f4727a", "#4a7cf5"]}}}
        },
        {
          "data": {"values": [{"price": 35661.43}]},
          "mark": {"type": "rule", "stroke": "#f23645", "strokeDash": [2, 3], "strokeWidth": 1.2},
          "encoding": {"x": {"datum": {"year": 2021, "month": 11, "date": 6, "utc": true}, "type": "temporal"}, "x2": {"datum": {"year": 2024, "month": 4, "date": 1, "utc": true}}, "y": {"field": "price", "type": "quantitative"}}
        },
        {
          "data": {"values": [{"when": "2023-12-16", "price": 46431.5, "tag": "blue"}]},
          "mark": {"type": "point", "filled": true, "size": 4, "shape": "M-37 0L-30 -12H31V12H-30Z", "color": "#a6cbf0", "opacity": 0.9},
          "encoding": {"x": {"field": "when", "type": "temporal"}, "y": {"field": "price", "type": "quantitative"}}
        },
        {
          "data": {"values": [
            {"when": "2023-12-16", "price": 22579.68, "tag": "cyan"},
            {"when": "2023-12-16", "price": 16738.21, "tag": "green"},
            {"when": "2023-12-16", "price": 35661.43, "tag": "red"}
          ]},
          "mark": {"type": "point", "filled": true, "size": 4, "shape": "M-37 0L-30 -12H37V12H-30Z", "opacity": 0.9},
          "encoding": {"x": {"field": "when", "type": "temporal"}, "y": {"field": "price", "type": "quantitative"},
            "fill": {"field": "tag", "scale": {"domain": ["cyan", "green", "red"], "range": ["#aae0f0", "#b7dcc6", "#e8c0ca"]}}}
        },
        {
          "data": {"values": [
            {"when": "2023-11-30", "price": 46431.5, "text": "46431.5"},
            {"when": "2023-11-30", "price": 35661.43, "text": "35661.43"},
            {"when": "2023-11-30", "price": 22579.68, "text": "22579.68"},
            {"when": "2023-11-30", "price": 16738.21, "text": "16738.21"}
          ]},
          "mark": {"type": "text", "align": "left", "baseline": "middle", "fontSize": 11, "color": "#434651"},
          "encoding": {"x": {"field": "when", "type": "temporal"}, "y": {"field": "price", "type": "quantitative"}, "text": {"field": "text"}}
        },
        {
          "data": {"values": [{"when": "2023-11-13", "price": 11004}]},
          "mark": {"type": "point", "shape": "circle", "filled": true, "size": 190, "fill": "#ffffff", "stroke": "#9c27b0", "strokeWidth": 1.5, "opacity": 1},
          "encoding": {"x": {"field": "when", "type": "temporal"}, "y": {"field": "price", "type": "quantitative"}}
        },
        {
          "data": {"values": [{"when": "2023-11-13", "price": 11004}]},
          "mark": {"type": "point", "filled": true, "size": 4, "shape": "M1 -5L-3 1H0L-1 5L3 -1H0Z", "color": "#9c27b0", "opacity": 1},
          "encoding": {"x": {"field": "when", "type": "temporal"}, "y": {"field": "price", "type": "quantitative"}}
        },
        {
          "data": {"values": [{}]},
          "mark": {"type": "rect", "fill": {"gradient": "linear", "x1": 0, "y1": 0, "x2": 0, "y2": 1, "stops": [{"offset": 0, "color": "#e3eefa"}, {"offset": 1, "color": "#d6e6f5"}]}},
          "encoding": {"x": {"datum": {"year": 2024, "month": 4, "date": 1, "utc": true}, "type": "temporal"}, "x2": {"datum": {"year": 2024, "month": 6, "date": 14, "hours": 16, "minutes": 48, "utc": true}}}
        },
        {
          "data": {"values": [{}]},
          "mark": {"type": "rect", "fill": "#9e9e9e"},
          "encoding": {"x": {"datum": {"year": 2024, "month": 4, "date": 1, "utc": true}, "type": "temporal"}, "x2": {"datum": {"year": 2024, "month": 6, "date": 12, "utc": true}}, "y": {"datum": 36461}, "y2": {"datum": 33288}}
        },
        {
          "data": {"values": [{"when": "2024-04-11", "price": 35661, "text": "35661.43"}]},
          "mark": {"type": "text", "align": "left", "baseline": "middle", "fontSize": 19, "color": "#131722"},
          "encoding": {"x": {"field": "when", "type": "temporal"}, "y": {"field": "price", "type": "quantitative"}, "text": {"field": "text"}}
        },
        {
          "data": {"values": [{"when": "2024-04-11", "price": 34158, "text": "5d 1h"}]},
          "mark": {"type": "text", "align": "left", "baseline": "middle", "fontSize": 19, "color": "#434651"},
          "encoding": {"x": {"field": "when", "type": "temporal"}, "y": {"field": "price", "type": "quantitative"}, "text": {"field": "text"}}
        },
        {
          "data": {"values": [{"when": "2021-11-11", "price": 73556, "text": "HA-MS_S"}]},
          "mark": {"type": "text", "align": "left", "baseline": "middle", "fontSize": 10.5, "color": "#434651"},
          "encoding": {"x": {"field": "when", "type": "temporal"}, "y": {"field": "price", "type": "quantitative"}, "text": {"field": "text"}}
        },
        {
          "data": {"values": [
            {"when":"2021-11-11","price":74676,"text":"Bitcoin / TetherUS, 1W, BINANCE","series":"label"},
            {"when":"2022-03-22","price":74676,"text":"O","series":"label"},
            {"when":"2022-03-29","price":74676,"text":"37064.13","series":"red"},
            {"when":"2022-05-07","price":74676,"text":"H","series":"label"},
            {"when":"2022-05-12","price":74676,"text":"37417.99","series":"red"},
            {"when":"2022-06-21","price":74676,"text":"L","series":"label"},
            {"when":"2022-06-26","price":74676,"text":"34800.00","series":"red"},
            {"when":"2022-08-05","price":74676,"text":"C","series":"label"},
            {"when":"2022-08-10","price":74676,"text":"35661.43","series":"red"},
            {"when":"2022-09-19","price":74676,"text":"−1402.70 (−3.78%)","series":"red"},
            {"when":"2022-12-03","price":74676,"text":"Vol","series":"label"},
            {"when":"2022-12-14","price":74676,"text":"77.816K","series":"red"},
            {"when":"2021-12-19","price":73556,"text":"59370.07","series":"blue"},
            {"when":"2022-01-28","price":73556,"text":"17880.71","series":"orange"},
            {"when":"2022-03-08","price":73556,"text":"66401.82","series":"blue"},
            {"when":"2022-04-17","price":73556,"text":"53256.64","series":"blue"},
            {"when":"2022-05-27","price":73556,"text":"21258.00","series":"orange"},
            {"when":"2022-07-06","price":73556,"text":"16527.32","series":"orange"},
            {"when":"2022-08-15","price":73556,"text":"29281.09","series":"purple"},
            {"when":"2022-09-24","price":73556,"text":"27992.57","series":"magenta"},
            {"when":"2022-11-03","price":73556,"text":"3916.82","series":"grey"},
            {"when":"2022-12-09","price":73556,"text":"16738.21","series":"green"},
            {"when":"2023-01-17","price":73556,"text":"46431.50","series":"sky"},
            {"when":"2023-02-26","price":73556,"text":"35661.43","series":"red"},
            {"when":"2023-04-07","price":73556,"text":"22579.68","series":"cyan"},
            {"when":"2023-05-17","price":73556,"text":"32616.60","series":"red"},
            {"when":"2023-06-25","price":73556,"text":"29305.56","series":"olive"}
          ]},
          "mark": {"type": "text", "align": "left", "baseline": "middle", "fontSize": 11.5},
          "encoding": {"x": {"field": "when", "type": "temporal"}, "y": {"field": "price", "type": "quantitative"}, "text": {"field": "text"},
            "color": {"field": "series", "scale": {"domain": ["label","red","blue","orange","purple","magenta","grey","green","sky","cyan","olive"], "range": ["#434651","#f7525f","#2a2aff","#ff9800","#aa00ff","#ff00ff","#9e9e9e","#4caf50","#2f80d8","#00bcd4","#808000"]}}}
        }
      ]
    },
    {
      "width": 1330,
      "height": 269,
      "view": {"stroke": null, "fill": {"gradient": "linear", "x1": 0, "y1": 0, "x2": 0, "y2": 1, "stops": [{"offset": 0, "color": "#e3eefa"}, {"offset": 1, "color": "#d6e6f5"}]}},
      "resolve": {"scale": {"color": "independent"}},
      "layer": [
        {
          "data": {"name": "ticks"},
          "mark": {"type": "rule", "color": "#c9d5e2", "opacity": 0.8},
          "encoding": {
            "x": {"field": "week", "type": "temporal", "scale": {"padding": 0, "domain": [{"year": 2021, "month": 11, "date": 5, "hours": 20, "minutes": 28, "utc": true}, {"year": 2024, "month": 6, "date": 14, "hours": 16, "minutes": 48, "utc": true}]},
              "axis": {"title": null, "orient": "bottom", "offset": -34, "domain": false, "ticks": false, "tickSize": 0, "labelPadding": 0, "grid": false, "labelFont": "Liberation Sans", "labelFontSize": 20, "labelColor": "#131722", "labelOverlap": false, "labelFlush": false, "labelBound": false, "labelBaseline": "top",
                "labelFontWeight": {"condition": {"test": "utcmonth(datum.value) == 0", "value": "bold"}, "value": "normal"},
                "labelExpr": "utcFormat(datum.value, utcmonth(datum.value) == 0 ? '%Y' : '%b')",
                "values": [{"year":2022,"month":1,"date":3,"utc":true},{"year":2022,"month":4,"date":4,"utc":true},{"year":2022,"month":7,"date":4,"utc":true},{"year":2022,"month":10,"date":3,"utc":true},{"year":2023,"month":1,"date":2,"utc":true},{"year":2023,"month":4,"date":3,"utc":true},{"year":2023,"month":7,"date":3,"utc":true},{"year":2023,"month":10,"date":2,"utc":true},{"year":2024,"month":1,"date":1,"utc":true},{"year":2024,"month":4,"date":1,"utc":true}]}},
            "y": {"datum": 32.67, "type": "quantitative", "scale": {"domain": [-43.75, 32.67], "nice": false, "zero": false},
              "axis": {"title": null, "orient": "right", "offset": -92, "domain": false, "ticks": false, "tickSize": 0, "labelPadding": 0, "labelAlign": "left", "labelFont": "Liberation Sans", "labelFontSize": 19, "labelColor": "#131722", "labelOverlap": false, "labelFlush": false, "labelBound": false, "format": ".2f", "zindex": 1, "grid": false, "values": [-20, 0, 20]}},
            "y2": {"datum": -31.25}
          }
        },
        {
          "data": {"values": [{}]},
          "mark": {"type": "rect", "fill": "#c3d7f9"},
          "encoding": {"x": {"datum": {"year": 2021, "month": 11, "date": 6, "utc": true}, "type": "temporal"}, "x2": {"datum": {"year": 2024, "month": 4, "date": 1, "utc": true}}, "y": {"datum": 32.67}, "y2": {"datum": 29.83}}
        },
        {
          "data": {"values": [{}]},
          "mark": {"type": "rect", "fill": "#dfcfdc"},
          "encoding": {"x": {"datum": {"year": 2021, "month": 11, "date": 6, "utc": true}, "type": "temporal"}, "x2": {"datum": {"year": 2024, "month": 4, "date": 1, "utc": true}}, "y": {"datum": -30.1}, "y2": {"datum": -31.5}}
        },
        {
          "data": {"values": [{"level": 20}, {"level": -20}]},
          "mark": {"type": "rule", "color": "#787b86", "strokeDash": [4, 4], "strokeWidth": 1},
          "encoding": {"x": {"datum": {"year": 2021, "month": 11, "date": 6, "utc": true}, "type": "temporal"}, "x2": {"datum": {"year": 2024, "month": 4, "date": 1, "utc": true}}, "y": {"field": "level", "type": "quantitative"}}
        },
        {
          "data": {"values": [{"level": 0}]},
          "mark": {"type": "rule", "color": "#868b95", "strokeWidth": 2},
          "encoding": {"x": {"datum": {"year": 2021, "month": 11, "date": 6, "utc": true}, "type": "temporal"}, "x2": {"datum": {"year": 2024, "month": 4, "date": 1, "utc": true}}, "y": {"field": "level", "type": "quantitative"}}
        },
        {
          "data": {"name": "momentum"},
          "mark": {"type": "line", "strokeWidth": 1.6, "clip": true},
          "encoding": {"x": {"field": "week", "type": "temporal"}, "y": {"field": "value", "type": "quantitative"}, "detail": {"field": "segment"},
            "color": {"field": "zone", "scale": {"domain": ["mid", "low", "high"], "range": ["#ced7e2", "#6a97f7", "#ab5a86"]}}}
        },
        {
          "data": {"values": [{"when": "2023-11-27", "value": 17.6}]},
          "mark": {"type": "point", "filled": true, "size": 4, "shape": "M-11 -19L1 -1L11 -3L9 19L-10 7L-1 5Z", "fill": "#8fc0f7", "stroke": "#6ba8f0", "strokeWidth": 1, "opacity": 1},
          "encoding": {"x": {"field": "when", "type": "temporal"}, "y": {"field": "value", "type": "quantitative"}}
        },
        {
          "data": {"values": [{"when": "2021-11-11", "value": 28.4, "text": "TS (21, close)"}]},
          "mark": {"type": "text", "align": "left", "baseline": "middle", "fontSize": 11.5, "color": "#434651"},
          "encoding": {"x": {"field": "when", "type": "temporal"}, "y": {"field": "value", "type": "quantitative"}, "text": {"field": "text"}}
        },
        {
          "data": {"values": [{"when": "2022-01-07", "value": 28.4, "text": "26.34"}]},
          "mark": {"type": "text", "align": "left", "baseline": "middle", "fontSize": 11.5, "color": "#a0185c"},
          "encoding": {"x": {"field": "when", "type": "temporal"}, "y": {"field": "value", "type": "quantitative"}, "text": {"field": "text"}}
        },
        {
          "data": {"values": [{}]},
          "mark": {"type": "rect", "fill": {"gradient": "linear", "x1": 0, "y1": 0, "x2": 0, "y2": 1, "stops": [{"offset": 0, "color": "#e3eefa"}, {"offset": 1, "color": "#d6e6f5"}]}},
          "encoding": {"x": {"datum": {"year": 2024, "month": 4, "date": 1, "utc": true}, "type": "temporal"}, "x2": {"datum": {"year": 2024, "month": 6, "date": 14, "hours": 16, "minutes": 48, "utc": true}}}
        },
        {
          "data": {"values": [{"when": "2021-11-12", "value": -48.9}]},
          "mark": {"type": "point", "filled": true, "size": 4, "shape": "M-9.5 -6H0V6H-4.5V-1.5H-9.5ZM1 -3.5A2 2 0 1 0 5 -3.5A2 2 0 1 0 1 -3.5ZM9.5 -6L4.2 6H-0.2L5 -6Z", "color": "#d1d4dc", "opacity": 1},
          "encoding": {"x": {"field": "when", "type": "temporal"}, "y": {"field": "value", "type": "quantitative"}}
        },
        {
          "data": {"values": [{"when": "2021-11-22", "value": -48.9, "text": "TradingView"}]},
          "mark": {"type": "text", "align": "left", "baseline": "middle", "fontSize": 12.5, "color": "#b2b5be"},
          "encoding": {"x": {"field": "when", "type": "temporal"}, "y": {"field": "value", "type": "quantitative"}, "text": {"field": "text"}}
        }
      ]
    }
  ]
}
